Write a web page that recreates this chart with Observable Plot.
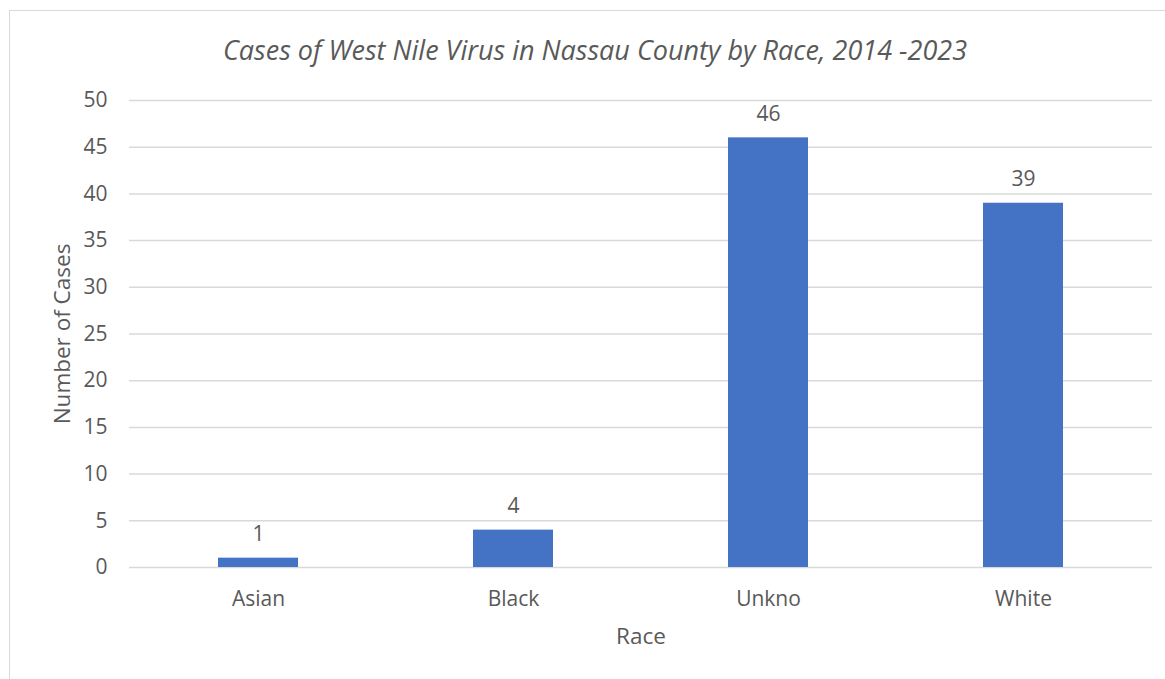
<!DOCTYPE html>
<html>
<head>
<meta charset="utf-8">
<script src="https://cdn.jsdelivr.net/npm/d3@7"></script>
<script src="https://cdn.jsdelivr.net/npm/@observablehq/plot@0.6"></script>
<style>
  html, body { margin: 0; padding: 0; background: #fff; }
  body { width: 1165px; height: 679px; position: relative; overflow: hidden; font-family: "Open Sans", sans-serif; }
  #frame { position: absolute; left: 9px; top: 10px; width: 1200px; height: 720px; border: 1.5px solid #d9d9d9; box-sizing: border-box; }
  #title { position: absolute; left: 0; top: 31px; width: 1190px; text-align: center; font-style: italic; font-size: 27px; color: #595959; }
  #chart { position: absolute; left: 0; top: 0; }
</style>
</head>
<body>
<div id="frame"></div>
<div id="chart"></div>
<div id="title">Cases of West Nile Virus in Nassau County by Race, 2014 -2023</div>
<script>
// Reported West Nile virus cases by race, Nassau County 2014–2023
const races = ["Asian", "Black", "Unkno", "White"];
const cases = [1, 4, 46, 39];
const yTicks = [0, 5, 10, 15, 20, 25, 30, 35, 40, 45, 50];

const data = races.map((race, i) => ({race, cases: cases[i]}));

const textColor = "#595959";
const barColor = "#4472C4";

const chart = Plot.plot({
  width: 1165,
  height: 679,
  marginLeft: 129,
  marginRight: 13,
  marginTop: 100,
  marginBottom: 112,
  style: {fontFamily: "'Open Sans', sans-serif", fontSize: "21px", color: textColor, background: "transparent"},
  x: {domain: races, paddingInner: 0.687, paddingOuter: 0.3435},
  y: {domain: [0, 50]},
  marks: [
    Plot.ruleY(yTicks, {stroke: "#d9d9d9", strokeWidth: 1.5}),
    Plot.barY(data, {x: "race", y: "cases", fill: barColor}),
    Plot.text(data, {x: "race", y: "cases", text: d => String(d.cases), dy: -17, lineAnchor: "bottom", fill: textColor, fontSize: 21}),
    Plot.axisX({tickSize: 0, tickPadding: 24, fontSize: 21, label: null}),
    Plot.axisY({ticks: yTicks, tickSize: 0, tickPadding: 22, fontSize: 21, label: null}),
    // Axis titles
    Plot.text(["Race"], {frameAnchor: "bottom", dy: 69, lineAnchor: "middle", fill: textColor, fontSize: 22.5}),
    Plot.text(["Number of Cases"], {frameAnchor: "left", dx: -67, rotate: -90, textAnchor: "middle", lineAnchor: "middle", fill: textColor, fontSize: 22.5})
  ]
});

document.getElementById("chart").appendChild(chart);
</script>
</body>
</html>
